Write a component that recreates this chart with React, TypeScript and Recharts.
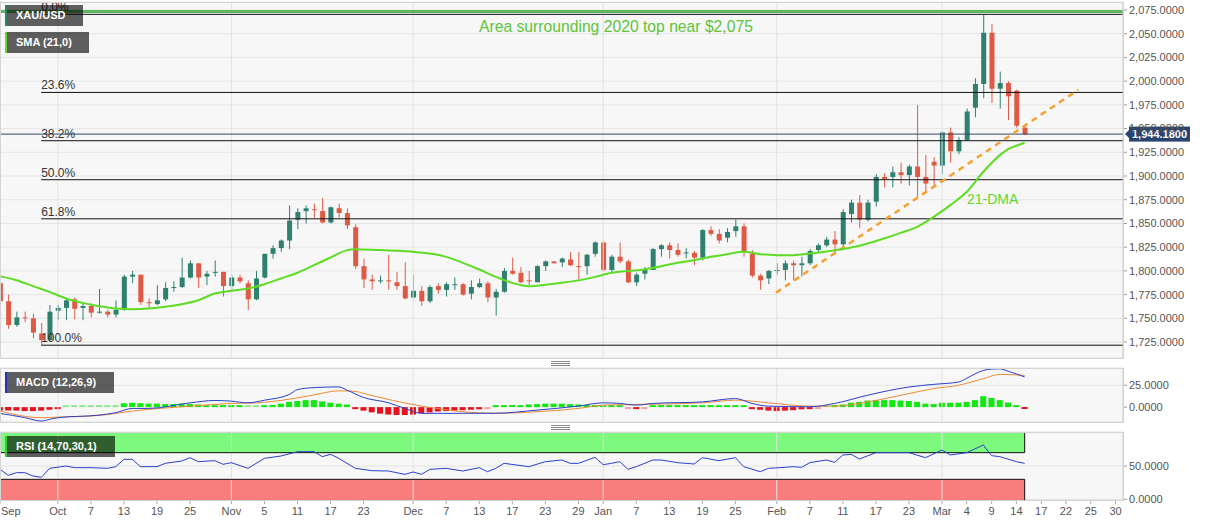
import React from "react";
import {
  Bar,
  CartesianGrid,
  Cell,
  ComposedChart,
  Line,
  ReferenceArea,
  ReferenceLine,
  XAxis,
  YAxis,
} from "recharts";

// index 0 = Oct 1 2021, one step per trading day
const firstIndex = -7;

const opens = [
  1787, 1768, 1743, 1751, 1750, 1734, 1727, 1758, 1761, 1770,
  1761, 1763, 1756, 1757, 1754, 1760, 1794, 1796, 1767, 1765,
  1770, 1782, 1783, 1793, 1808, 1794, 1798, 1799, 1784, 1793,
  1787, 1770, 1793, 1818, 1824, 1832, 1854, 1863, 1865, 1863,
  1851, 1866, 1861, 1846, 1805, 1791, 1789, 1790, 1788, 1784,
  1772, 1779, 1768, 1784, 1780, 1785, 1786, 1776, 1783, 1787,
  1772, 1778, 1800, 1798, 1790, 1788, 1805, 1810, 1809, 1812,
  1805, 1805, 1818, 1830, 1801, 1815, 1810, 1788, 1797, 1801,
  1823, 1827, 1822, 1819, 1819, 1814, 1843, 1839, 1835, 1842,
  1847, 1818, 1795, 1792, 1800, 1801, 1808, 1806, 1808, 1822,
  1827, 1833, 1828, 1860, 1872, 1854, 1873, 1899, 1899, 1904,
  1901, 1910, 1899, 1915, 1911, 1946, 1926, 1938, 1972, 1997,
  2051, 1992, 1998, 1990, 1951,
];
const highs = [
  1792, 1775, 1757, 1757, 1755, 1745, 1764, 1764, 1771, 1772,
  1766, 1766, 1781, 1759, 1769, 1796, 1800, 1796, 1771, 1785,
  1788, 1789, 1814, 1811, 1808, 1800, 1811, 1799, 1796, 1796,
  1790, 1800, 1818, 1827, 1833, 1869, 1866, 1869, 1871, 1877,
  1868, 1871, 1866, 1849, 1813, 1796, 1795, 1817, 1799, 1809,
  1796, 1784, 1785, 1787, 1788, 1793, 1787, 1790, 1792, 1789,
  1781, 1803, 1814, 1804, 1800, 1806, 1811, 1810, 1814, 1820,
  1820, 1818, 1831, 1832, 1817, 1830, 1812, 1798, 1804, 1824,
  1828, 1830, 1829, 1824, 1821, 1844, 1847, 1844, 1845, 1854,
  1850, 1822, 1797, 1801, 1808, 1811, 1811, 1815, 1823, 1829,
  1836, 1842, 1865, 1875, 1880, 1875, 1902, 1903, 1910, 1914,
  1912, 1975, 1922, 1920, 1947, 1951, 1941, 1971, 2003, 2070,
  2060, 2010, 2000, 1991, 1954,
];
const lows = [
  1765, 1739, 1741, 1746, 1729, 1722, 1725, 1748, 1748, 1749,
  1748, 1751, 1755, 1751, 1751, 1758, 1787, 1764, 1761, 1764,
  1768, 1778, 1782, 1792, 1782, 1785, 1794, 1773, 1780, 1787,
  1759, 1769, 1792, 1813, 1820, 1823, 1844, 1850, 1856, 1850,
  1850, 1856, 1844, 1802, 1782, 1780, 1787, 1780, 1780, 1770,
  1771, 1763, 1766, 1776, 1773, 1780, 1774, 1770, 1782, 1767,
  1753, 1777, 1796, 1787, 1785, 1788, 1800, 1808, 1804, 1805,
  1791, 1796, 1815, 1799, 1799, 1808, 1787, 1784, 1791, 1801,
  1815, 1813, 1815, 1813, 1806, 1811, 1837, 1829, 1830, 1836,
  1815, 1793, 1780, 1786, 1796, 1790, 1790, 1794, 1806, 1819,
  1825, 1819, 1824, 1851, 1845, 1852, 1868, 1888, 1888, 1892,
  1890, 1878, 1882, 1890, 1902, 1914, 1923, 1937, 1962, 1982,
  1977, 1971, 1959, 1951, 1943,
];
const closes = [
  1768, 1743, 1751, 1750, 1735, 1727, 1757, 1761, 1769, 1760,
  1763, 1756, 1757, 1754, 1759, 1794, 1796, 1767, 1766, 1769,
  1782, 1783, 1793, 1808, 1793, 1797, 1799, 1784, 1793, 1789,
  1770, 1792, 1818, 1824, 1832, 1853, 1862, 1866, 1864, 1851,
  1867, 1861, 1848, 1805, 1791, 1789, 1790, 1789, 1784, 1771,
  1779, 1768, 1783, 1780, 1786, 1786, 1775, 1783, 1787, 1772,
  1778, 1800, 1797, 1788, 1789, 1805, 1810, 1808, 1813, 1806,
  1804, 1817, 1830, 1801, 1815, 1810, 1788, 1796, 1801, 1823,
  1827, 1822, 1817, 1819.5, 1814, 1843, 1839, 1832, 1841, 1847,
  1820, 1795, 1790, 1800, 1801, 1808, 1806, 1808, 1821, 1827,
  1833, 1828, 1862, 1872, 1854, 1872, 1899, 1897, 1904, 1901,
  1910, 1899, 1892, 1911, 1946, 1926, 1938, 1968, 1997, 2051,
  1992, 1998, 1984, 1953, 1944,
];

// [day index, value]
const smaPoints: [number, number][] = [
  [-7, 1794.4], [-5, 1790.2], [-3, 1783.9], [-1, 1777.9], [1, 1770.9], [3, 1766.3],
  [5, 1762.8], [7, 1760.3], [9, 1759.6], [11, 1760.3], [13, 1762.1], [15, 1764.9],
  [17, 1769.1], [19, 1776.2], [21, 1779], [23, 1781.4], [25, 1786], [27, 1792],
  [29, 1798], [31, 1806], [33, 1814.1], [35, 1821.9], [36, 1822.9], [39, 1821.9],
  [41, 1821.2], [43, 1820.1], [45, 1818.3], [47, 1814.8], [49, 1808.5], [51, 1801.5],
  [53, 1793.7], [55, 1787.4], [57, 1783.9], [59, 1785.5], [61, 1787.5], [63, 1790],
  [65, 1793.7], [67, 1798], [69, 1800], [71, 1801.5], [73, 1805], [75, 1808.5],
  [77, 1811.3], [79, 1814.8], [81, 1817.6], [83, 1820.1], [85, 1817.6], [87, 1816.6],
  [89, 1816.6], [91, 1818.3], [93, 1820.5], [95, 1823], [97, 1826.5], [98, 1828.9],
  [100, 1834.2], [102, 1840.1], [104, 1846.5], [106, 1857], [108, 1869.3], [110, 1883.4],
  [112, 1904.5], [114, 1922], [115, 1928.4], [116, 1931.9], [117, 1935],
];

const macdPoints: [number, number][] = [
  [-7, -7.2], [-4, -12], [-2, -15.9], [-1, -14], [0, -12.1], [5, -9.1], [7, -6.4],
  [9, -1.5], [11, -1.5], [16, 4.9], [19, 7.6], [21, 6.8], [23, 4.9], [25, 7.9],
  [28, 14.4], [29, 20], [31, 22.3], [34, 23.1], [35, 19.4], [37, 11], [40, 5],
  [42, -1.5], [44, -7.1], [49, -7.1], [53, -7], [58, -3.4], [63, 1.2], [66, 4.9],
  [68, 4.2], [70, 2.3], [72, 4.2], [78, 6], [82, 9.8], [84, 4.2], [86, 1.1], [91, 0.4],
  [94, 4.2], [98, 13.6], [103, 23], [106, 26], [109, 28.7], [110, 33], [111, 38],
  [112, 42], [113, 43.5], [114, 43.8], [115, 41], [116, 38], [117, 34.4],
];
const signalPoints: [number, number][] = [
  [-7, -4.5], [-2, -12.1], [0, -11.4], [5, -9.5], [9, -4.5], [16, 1.1], [21, 4.2],
  [24, 4.9], [28, 9], [31, 14], [34, 18.6], [36, 18], [37, 15.6], [44, 1.2], [49, -5.2],
  [53, -7.1], [58, -5.2], [63, -1.5], [66, 2.3], [70, 3], [78, 4.9], [82, 8], [86, 4.9],
  [91, 1.1], [94, 1.1], [98, 6], [103, 15.5], [106, 21.2], [109, 25], [112, 32.5],
  [114, 37.4], [117, 36.3],
];
const histValues = [
  -4, -4, -4, -4.5, -4.5, -4, -3, -1.5,
  0.5, 0.5, 0.5, 0.5, 0.5, 0.5, 0.5,
  4.5, 5, 4.5, 4, 4, 3.5, 3.5, 4, 3.5, 3,
  1.5, 1.5, 1, 1, 1, 0.5,
  0.5, 1,
  2.5, 4, 6, 7, 8, 8, 6.5, 5, 4, 3,
  -1,
  -4, -6, -7.5, -8.5, -9, -9, -8.5, -7,
  -6, -5, -4.5, -4, -3.5, -3, -2.5,
  -0.5,
  1, 1.5, 2, 2, 3, 3.5, 4, 4, 4, 3.5, 3, 2.5, 2,
  1.5, 1.5, 1,
  -0.5, -1, -0.5,
  1, 1, 1.5, 1.5, 1.5, 1.5, 1.5, 2, 2, 2, 1.5, 1,
  -1.5, -3, -4, -4.5, -4, -3.5, -2.5, -1.5,
  -0.5, 0.5, 1,
  3, 5, 6, 7.5, 8, 8, 8, 7.5, 7, 6, 4, 3.5, 5, 5, 5, 6, 8, 12.5, 10.5, 8, 5.3, 1, -2,
];

const rsiPoints: [number, number][] = [
  [-7, 45], [-6, 36], [-5, 40], [-4, 40], [-3, 35], [-2, 33], [-1, 46.5], [1, 50],
  [2, 47.5], [4, 47.5], [6, 46.5], [7, 49], [8, 60], [9, 60], [10, 49], [12, 49],
  [13, 54], [15, 57.5], [16, 62.5], [17, 56.5], [19, 58], [20, 52.5], [21, 55],
  [23, 46.5], [25, 61.5], [27, 65], [29, 71.5], [31, 71.5], [32, 64], [33, 67.5],
  [34, 61.5], [36, 46.5], [38, 43], [40, 42.5], [42, 37.5], [43, 41], [44, 37.5],
  [45, 45], [47, 46.5], [49, 42.5], [51, 47.5], [52, 41.5], [53, 46.5], [54, 54],
  [57, 49], [59, 56.5], [61, 59], [62, 54], [63, 54], [65, 63], [66, 52], [67, 54],
  [68, 56.5], [69, 45], [70, 49], [72, 59], [73, 59], [75, 55], [77, 53], [78, 62.5],
  [80, 58], [82, 62.5], [83, 49], [85, 41.5], [86, 46.5], [88, 48], [89, 49], [90, 48],
  [91, 55], [93, 59], [94, 55.5], [95, 66.5], [96, 67.5], [97, 60.5], [99, 70],
  [101, 70], [103, 70], [105, 62.5], [107, 74], [108, 66.5], [110, 70], [112, 81.5],
  [113, 65.5], [114, 64], [116, 56.5], [117, 54],
];

const tickIndex = [
  -7, 0, 4, 8, 12, 16, 21, 25, 29, 33, 37, 43, 47, 51, 55, 59, 63, 66, 70, 74, 78,
  82, 87, 91, 95, 99, 103, 107, 110, 113, 116, 119, 122, 125, 128,
];
const tickLabels = [
  "Sep", "Oct", "7", "13", "19", "25", "Nov", "5", "11", "17", "23", "Dec", "7", "13",
  "17", "23", "29", "Jan", "7", "13", "19", "25", "Feb", "7", "11", "17", "23", "Mar",
  "4", "9", "14", "17", "22", "25", "30",
];
const monthIndex = [0, 21, 43, 66, 87, 107];

const priceTicks = [
  1725, 1750, 1775, 1800, 1825, 1850, 1875, 1900, 1925, 1950, 1975, 2000, 2025, 2050, 2075,
];
const fibLevels = [2070.4, 1988.1, 1937.2, 1896.1, 1854.9, 1721.7];
const fibLabels = ["0.0%", "23.6%", "38.2%", "50.0%", "61.8%", "100.0%"];
const resistanceLevel = 2073.5;
const lastPrice = 1944.18;
const trendStart = { x: 86.9, y: 1777 };
const trendEnd = { x: 123.5, y: 1991 };

const X_DOMAIN: [number, number] = [-7, 128.9];
const FIB_START = -2.02;
const LAST_INDEX = firstIndex + closes.length - 1;

const UP = "#2f806e";
const DOWN = "#df5a44";
const BLUE = "#2b3fcc";
const FONT = "Arial, 'Liberation Sans', sans-serif";

const rows: any[] = opens.map((open, i) => ({
  idx: firstIndex + i,
  open,
  high: highs[i],
  low: lows[i],
  close: closes[i],
  range: [lows[i], highs[i]],
  hist: histValues[i],
}));
const byIdx = new Map(rows.map((r) => [r.idx, r]));
smaPoints.forEach(([i, v]) => (byIdx.get(i).sma = v));
macdPoints.forEach(([i, v]) => (byIdx.get(i).macd = v));
signalPoints.forEach(([i, v]) => (byIdx.get(i).signal = v));
rsiPoints.forEach(([i, v]) => (byIdx.get(i).rsi = v));

const fmt = (v: number) =>
  v.toLocaleString("en-US", { minimumFractionDigits: 4, maximumFractionDigits: 4 });

function Candle(props: any) {
  const { x, y, width, height, payload } = props;
  const { open, close, high, low } = payload;
  const top = Math.min(y, y + height);
  const h = Math.abs(height);
  const per = high === low ? 0 : h / (high - low);
  const py = (v: number) => top + (high - v) * per;
  const color = close >= open ? UP : DOWN;
  const cx = x + width / 2;
  const bodyTop = py(Math.max(open, close));
  const bodyH = Math.max(1, Math.abs(py(open) - py(close)));
  return (
    <g>
      <line x1={cx} x2={cx} y1={top} y2={top + h} stroke={color} strokeWidth={1} />
      <rect x={x} y={bodyTop} width={width} height={bodyH} fill={color} />
    </g>
  );
}

function DateTick(props: any) {
  const { x, y, payload } = props;
  const label = tickLabels[tickIndex.indexOf(payload.value)] ?? "";
  const first = payload.value === tickIndex[0];
  return (
    <text
      x={first ? x + 1 : x}
      y={y}
      dy="0.71em"
      textAnchor={first ? "start" : "middle"}
      fill="#555"
      fontSize={11}
    >
      {label}
    </text>
  );
}

const fibLabel = (text: string) => ({ viewBox }: any) => (
  <text x={viewBox.x} y={viewBox.y - 3} fontSize={12} fill="#333">
    {text}
  </text>
);

const PriceTag = ({ viewBox }: any) => {
  const x = viewBox.x + viewBox.width;
  const y = viewBox.y;
  return (
    <g>
      <polygon points={`${x + 2},${y} ${x + 7},${y - 5} ${x + 7},${y + 5}`} fill="#29446f" />
      <rect x={x + 6} y={y - 7.5} width={61} height={15} fill="#29446f" />
      <text x={x + 36.5} y={y + 4} textAnchor="middle" fill="#fff" fontSize={11} fontWeight="bold">
        {fmt(lastPrice)}
      </text>
    </g>
  );
};

const histColor = (v: number) =>
  v > 0 ? (v < 0.8 ? "#8fe88f" : "#10e810") : v > -0.8 ? "#f2a0a0" : "#e8101a";

const yTick = { fill: "#555", fontSize: 11 };

function Tag({ text, top, width, strip }: { text: string; top: number; width: number; strip: string }) {
  return (
    <div
      style={{
        position: "absolute",
        left: 5,
        top,
        width,
        height: 21,
        background: "rgba(0,0,0,0.62)",
        borderLeft: `2px solid ${strip}`,
        color: "#fff",
        fontSize: 11,
        fontWeight: "bold",
        lineHeight: "21px",
        paddingLeft: 9,
        boxSizing: "border-box",
      }}
    >
      {text}
    </div>
  );
}

function Grip({ top }: { top: number }) {
  return (
    <div style={{ position: "absolute", left: 551, top, width: 19 }}>
      {[0, 2, 4].map((d) => (
        <div key={d} style={{ position: "absolute", top: d, width: 19, height: 1, background: "#888" }} />
      ))}
    </div>
  );
}

const panelBorder = (top: number, height: number): React.CSSProperties => ({
  position: "absolute",
  left: 0,
  top,
  width: 1124,
  height,
  border: "1px solid #d4d4d4",
  boxSizing: "border-box",
  pointerEvents: "none",
});

export default function App() {
  return (
    <div
      style={{
        position: "fixed",
        left: 0,
        top: 0,
        width: 1207,
        height: 526,
        background: "#fff",
        fontFamily: FONT,
        overflow: "hidden",
      }}
    >
      <div style={{ position: "absolute", left: 0, top: 0 }}>
        <ComposedChart width={1207} height={358} data={rows} margin={{ top: 2, right: 0, bottom: 0, left: 0 }}>
          <CartesianGrid vertical={false} stroke="#e6e6e6" fill="#f7f7f7" />
          <XAxis type="number" dataKey="idx" domain={X_DOMAIN} hide allowDataOverflow />
          <YAxis
            orientation="right"
            domain={[1708.2, 2083.4]}
            ticks={priceTicks}
            allowDataOverflow
            width={84}
            tickFormatter={fmt}
            tick={yTick}
            tickSize={4}
            axisLine={{ stroke: "#c8c8c8" }}
            tickLine={{ stroke: "#999" }}
          />
          {monthIndex.map((m) => (
            <ReferenceLine key={m} x={m} stroke="#e2e2e2" />
          ))}
          <ReferenceLine y={resistanceLevel} stroke="#5cb85c" strokeWidth={3} />
          {fibLevels.map((lv, i) => (
            <ReferenceLine
              key={lv}
              segment={[
                { x: FIB_START, y: lv },
                { x: X_DOMAIN[1], y: lv },
              ]}
              stroke="#111"
              strokeWidth={1}
              label={fibLabel(fibLabels[i])}
            />
          ))}
          <ReferenceLine y={lastPrice} stroke="#34496a" strokeWidth={1} label={PriceTag} />
          <ReferenceLine
            segment={[trendStart, trendEnd]}
            stroke="#f5a030"
            strokeWidth={2.5}
            strokeDasharray="6 5"
          />
          <Bar dataKey="range" shape={Candle} barSize={5} isAnimationActive={false} />
          <Line
            dataKey="sma"
            type="monotone"
            stroke="#5edc23"
            strokeWidth={2}
            dot={false}
            connectNulls
            isAnimationActive={false}
          />
        </ComposedChart>
      </div>
      <div style={panelBorder(1.5, 357)} />

      <div style={{ position: "absolute", left: 0, top: 360 }}>
        <ComposedChart width={1207} height={62} data={rows} margin={{ top: 8, right: 0, bottom: 0, left: 0 }}>
          <CartesianGrid vertical={false} stroke="#e3e3e3" fill="#f7f7f7" />
          <XAxis type="number" dataKey="idx" domain={X_DOMAIN} hide allowDataOverflow />
          <YAxis
            orientation="right"
            domain={[-17, 44.7]}
            ticks={[0, 25]}
            allowDataOverflow
            width={84}
            tickFormatter={fmt}
            tick={yTick}
            tickSize={4}
            axisLine={{ stroke: "#c8c8c8" }}
            tickLine={{ stroke: "#999" }}
          />
          {monthIndex.map((m) => (
            <ReferenceLine key={m} x={m} stroke="#e2e2e2" />
          ))}
          <Bar dataKey="hist" barSize={6} minPointSize={2} isAnimationActive={false}>
            {rows.map((r) => (
              <Cell key={r.idx} fill={histColor(r.hist)} />
            ))}
          </Bar>
          <Line dataKey="signal" type="monotone" stroke="#f08a35" strokeWidth={1} dot={false} connectNulls isAnimationActive={false} />
          <Line dataKey="macd" type="monotone" stroke={BLUE} strokeWidth={1} dot={false} connectNulls isAnimationActive={false} />
        </ComposedChart>
      </div>
      <div style={panelBorder(367.5, 55)} />

      <div style={{ position: "absolute", left: 0, top: 424 }}>
        <ComposedChart width={1207} height={102} data={rows} margin={{ top: 8, right: 0, bottom: 0, left: 0 }}>
          <CartesianGrid vertical={false} stroke="#e3e3e3" fill="#f7f7f7" />
          <XAxis
            type="number"
            dataKey="idx"
            domain={X_DOMAIN}
            allowDataOverflow
            ticks={tickIndex}
            interval={0}
            height={26}
            tickSize={4}
            tickMargin={3}
            axisLine={false}
            tickLine={{ stroke: "#aaa" }}
            tick={<DateTick />}
          />
          <YAxis
            orientation="right"
            domain={[-1, 101]}
            ticks={[0, 50]}
            allowDataOverflow
            width={84}
            tickFormatter={fmt}
            tick={yTick}
            tickSize={4}
            axisLine={{ stroke: "#c8c8c8" }}
            tickLine={{ stroke: "#999" }}
          />
          {monthIndex.map((m) => (
            <ReferenceLine key={m} x={m} stroke="#e2e2e2" />
          ))}
          <ReferenceArea x1={X_DOMAIN[0]} x2={LAST_INDEX} y1={70} y2={100} fill="#7dfa7d" fillOpacity={1} stroke="none" />
          <ReferenceArea x1={X_DOMAIN[0]} x2={LAST_INDEX} y1={-1} y2={30} fill="#fa7d7d" fillOpacity={1} stroke="none" />
          <ReferenceLine segment={[{ x: X_DOMAIN[0], y: 70 }, { x: LAST_INDEX, y: 70 }]} stroke="#111" />
          <ReferenceLine segment={[{ x: LAST_INDEX, y: 70 }, { x: LAST_INDEX, y: 100 }]} stroke="#111" />
          <ReferenceLine segment={[{ x: X_DOMAIN[0], y: 30 }, { x: LAST_INDEX, y: 30 }]} stroke="#111" />
          <ReferenceLine segment={[{ x: LAST_INDEX, y: -1 }, { x: LAST_INDEX, y: 30 }]} stroke="#111" />
          <Line dataKey="rsi" type="linear" stroke={BLUE} strokeWidth={1} dot={false} connectNulls isAnimationActive={false} />
        </ComposedChart>
      </div>
      <div style={panelBorder(431.5, 69)} />

      <Grip top={361} />
      <Grip top={425} />

      <Tag text="XAU/USD" top={5} width={78} strip="#2f806e" />
      <Tag text="SMA (21,0)" top={32} width={84} strip="#5edc23" />
      <Tag text="MACD (12,26,9)" top={372} width={109} strip="#2233bb" />
      <Tag text="RSI (14,70,30,1)" top={436} width={110} strip="#33cc33" />

      <div style={{ position: "absolute", left: 479, top: 18, fontSize: 15.7, color: "#5ec43b", whiteSpace: "nowrap" }}>
        Area surrounding 2020 top near $2,075
      </div>
      <div style={{ position: "absolute", left: 967, top: 191, fontSize: 14, color: "#5fd62c", whiteSpace: "nowrap" }}>
        21-DMA
      </div>
    </div>
  );
}
